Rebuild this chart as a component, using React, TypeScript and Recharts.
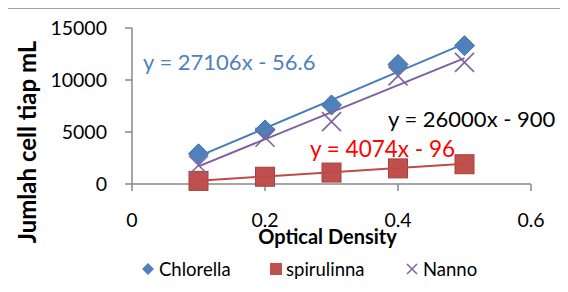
import { ScatterChart, Scatter, XAxis, YAxis, Label } from "recharts";

const odValues = [0.1, 0.2, 0.3, 0.4, 0.5];
const chlorella = [2900, 5200, 7600, 11500, 13300];
const spirulinna = [300, 700, 1100, 1500, 1900];
const nanno = [1800, 4500, 6000, 10400, 11700];

// trendline end points (x = 0.1 and x = 0.5)
const trendOd = [0.1, 0.5];
const chlorellaTrend = [2650, 13500];
const spirulinnaTrend = [310, 1940];
const nannoTrend = [1700, 12100];

const xTicks = [0, 0.2, 0.4, 0.6];
const yTicks = [0, 5000, 10000, 15000];

const BLUE = "#4F81BD";
const RED = "#C0504D";
const PURPLE = "#8064A2";
const FONT = "Lato, 'Noto Sans', sans-serif";

const toPoints = (xs: number[], ys: number[]) => xs.map((x, i) => ({ x, y: ys[i] }));

const Diamond = (props: any) => {
  const { cx, cy } = props;
  const r = 10;
  return (
    <path
      d={`M${cx},${cy - r}L${cx + r},${cy}L${cx},${cy + r}L${cx - r},${cy}Z`}
      fill={BLUE}
      stroke="#3A6AA5"
      strokeWidth={1}
    />
  );
};

const Square = (props: any) => {
  const { cx, cy } = props;
  const r = 9.5;
  return <rect x={cx - r} y={cy - r} width={2 * r} height={2 * r} fill={RED} stroke="#A5403D" strokeWidth={1} />;
};

const Cross = (props: any) => {
  const { cx, cy } = props;
  const r = 9.5;
  return (
    <path
      d={`M${cx - r},${cy - r}L${cx + r},${cy + r}M${cx - r},${cy + r}L${cx + r},${cy - r}`}
      stroke={PURPLE}
      strokeWidth={1.6}
      fill="none"
    />
  );
};

const NoDot = () => <g />;

const eqStyle = (left: number, centerY: number, size: number, color: string) => ({
  position: "absolute" as const,
  left,
  top: centerY - 0.53 * size,
  fontSize: size,
  lineHeight: 1,
  color,
  fontFamily: FONT,
  whiteSpace: "nowrap" as const,
});

export default function App() {
  return (
    <div style={{ position: "relative", width: 568, height: 292, margin: -8, overflow: "hidden", background: "#fff" }}>
      <div
        style={{
          position: "absolute",
          left: 5,
          top: 7,
          width: 620,
          height: 340,
          border: "2px solid #a0a0a0",
        }}
      />
      <div style={{ position: "absolute", left: 0, top: 0 }}>
        <ScatterChart width={568} height={292} margin={{ top: 28, right: 37, bottom: 58, left: 72 }}>
          <XAxis
            type="number"
            dataKey="x"
            domain={[0, 0.6]}
            ticks={xTicks}
            tickSize={7}
            tickMargin={22}
            axisLine={{ stroke: "#888", strokeWidth: 1.5 }}
            tickLine={{ stroke: "#888", strokeWidth: 1.5 }}
            tick={{ fill: "#000", fontSize: 19.5, fontFamily: FONT }}
            height={50}
          >
            <Label
              content={({ viewBox }: any) => (
                <text
                  x={viewBox.x + viewBox.width / 2 - 4}
                  y={244}
                  textAnchor="middle"
                  fontFamily={FONT}
                  fontWeight="bold"
                  fontSize={20}
                  fill="#000"
                >
                  Optical Density
                </text>
              )}
            />
          </XAxis>
          <YAxis
            type="number"
            dataKey="y"
            domain={[0, 15000]}
            ticks={yTicks}
            width={60}
            tickSize={7}
            tickMargin={18}
            axisLine={{ stroke: "#888", strokeWidth: 1.5 }}
            tickLine={{ stroke: "#888", strokeWidth: 1.5 }}
            tick={{ fill: "#000", fontSize: 19.5, fontFamily: FONT }}
          >
            <Label
              content={() => (
                <text
                  x={0}
                  y={0}
                  transform="translate(36,142) rotate(-90)"
                  textAnchor="middle"
                  fontFamily={FONT}
                  fontWeight="bold"
                  fontSize={24}
                  fill="#000"
                >
                  Jumlah cell tiap mL
                </text>
              )}
            />
          </YAxis>
          <Scatter name="Chlorella" data={toPoints(odValues, chlorella)} shape={Diamond} isAnimationActive={false} />
          <Scatter name="spirulinna" data={toPoints(odValues, spirulinna)} shape={Square} isAnimationActive={false} />
          <Scatter name="Nanno" data={toPoints(odValues, nanno)} shape={Cross} isAnimationActive={false} />
          <Scatter
            data={toPoints(trendOd, chlorellaTrend)}
            line={{ stroke: "#4A7EBB", strokeWidth: 2 }}
            shape={NoDot}
            isAnimationActive={false}
            legendType="none"
          />
          <Scatter
            data={toPoints(trendOd, spirulinnaTrend)}
            line={{ stroke: "#BE4B48", strokeWidth: 2 }}
            shape={NoDot}
            isAnimationActive={false}
            legendType="none"
          />
          <Scatter
            data={toPoints(trendOd, nannoTrend)}
            line={{ stroke: "#7D60A0", strokeWidth: 2 }}
            shape={NoDot}
            isAnimationActive={false}
            legendType="none"
          />
        </ScatterChart>
      </div>

      <div style={eqStyle(143, 63, 22, BLUE)}>y = 27106x - 56.6</div>
      <div style={eqStyle(388, 120, 22, "#000")}>y = 26000x - 900</div>
      <div style={eqStyle(310, 150, 22.5, "#FF0000")}>y = 4074x - 96</div>

      <div
        style={{
          position: "absolute",
          left: 0,
          top: 269 - 10,
          height: 20,
          width: 568,
          fontFamily: FONT,
          fontSize: 18.5,
          color: "#000",
        }}
      >
        <svg width={14} height={14} style={{ position: "absolute", left: 141, top: 3 }}>
          <path d="M7,1L13,7L7,13L1,7Z" fill={BLUE} />
        </svg>
        <span style={{ position: "absolute", left: 159, top: 0, lineHeight: "20px" }}>Chlorella</span>
        <svg width={14} height={14} style={{ position: "absolute", left: 269, top: 3 }}>
          <rect x={1} y={1} width={12} height={12} fill={RED} />
        </svg>
        <span style={{ position: "absolute", left: 286, top: 0, lineHeight: "20px" }}>spirulinna</span>
        <svg width={14} height={14} style={{ position: "absolute", left: 405, top: 3 }}>
          <path d="M2,2L12,12M2,12L12,2" stroke={PURPLE} strokeWidth={1.5} />
        </svg>
        <span style={{ position: "absolute", left: 423, top: 0, lineHeight: "20px" }}>Nanno</span>
      </div>
    </div>
  );
}
